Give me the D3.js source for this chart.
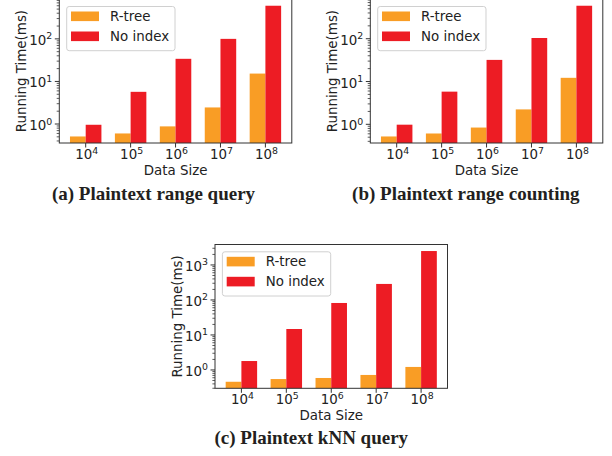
<!DOCTYPE html>
<html>
<head>
<meta charset="utf-8">
<script src="https://cdn.jsdelivr.net/npm/d3@7"></script>
<style>
  body { margin: 0; background: #fff; }
  svg { display: block; }
</style>
</head>
<body>
<div id="chart"></div>
<script>
// Data sizes (exponents of 10) on the x axis
const sizeExponents = [4, 5, 6, 7, 8];
const seriesNames = ["R-tree", "No index"];

// Running times (ms)
const rangeRtree   = [0.51, 0.60, 0.88, 2.45, 15.3];
const rangeNoIndex = [0.96, 5.7, 34, 100, 600];
const countRtree   = [0.52, 0.61, 0.84, 2.23, 12.2];
const countNoIndex = [0.98, 5.8, 32, 104, 590];
const knnRtree     = [0.46, 0.55, 0.59, 0.72, 1.22];
const knnNoIndex   = [1.8, 14.8, 82, 287, 2500];

const captions = [
  "(a) Plaintext range query",
  "(b) Plaintext range counting",
  "(c) Plaintext kNN query"
];

const colors = ["#F99D25", "#ED1C24"];
const textColor = "#222";
const font = "DejaVu Sans, sans-serif";

const W = 612, H = 456;
const axW = 232.5, axH = 143.8;

const svg = d3.select("#chart").append("svg")
  .attr("width", W)
  .attr("height", H)
  .style("font-family", font);

// position of each panel's axes box + its caption
const panels = [
  { rtree: rangeRtree, noIndex: rangeNoIndex, left: 59.3, top: -0.8, capX: 153.5, capY: 200 },
  { rtree: countRtree, noIndex: countNoIndex, left: 370.3, top: -0.8, capX: 465.8, capY: 200 },
  { rtree: knnRtree, noIndex: knnNoIndex, left: 215, top: 244.5, capX: 311.3, capY: 443.5 }
];

panels.forEach((p, idx) => {
  const g = svg.append("g").attr("transform", `translate(${p.left},${p.top})`);

  // x: category index, with 5% margin like matplotlib
  const barW = 0.35;
  const x = d3.scaleLinear()
    .domain([-0.5875, 4.5875])
    .range([0, axW]);

  // y: log scale, 5% margin in log space around bar tops
  const all = p.rtree.concat(p.noIndex);
  const lo = Math.log10(d3.min(all)), hi = Math.log10(d3.max(all));
  const pad = (hi - lo) * 0.05;
  const y = d3.scaleLog()
    .domain([Math.pow(10, lo - pad), Math.pow(10, hi + pad)])
    .range([axH, 0]);

  const clipId = "clip" + idx;
  g.append("clipPath").attr("id", clipId)
    .append("rect").attr("width", axW).attr("height", axH);

  // Bars
  const bars = g.append("g").attr("clip-path", `url(#${clipId})`);
  [p.rtree, p.noIndex].forEach((vals, s) => {
    bars.selectAll(null)
      .data(vals)
      .join("rect")
      .attr("x", (d, i) => x(i + (s === 0 ? -barW : 0)))
      .attr("y", d => y(d))
      .attr("width", x(barW) - x(0))
      .attr("height", d => axH + 2 - y(d))
      .attr("fill", colors[s]);
  });

  // Y axis: major ticks at decades, minor ticks in between
  const [d0, d1] = y.domain();
  const kMin = Math.floor(Math.log10(d0)), kMax = Math.ceil(Math.log10(d1));
  const majors = [], minors = [];
  for (let k = kMin; k <= kMax; k++) {
    const v = Math.pow(10, k);
    if (v >= d0 && v <= d1) majors.push(k);
    for (let m = 2; m <= 9; m++) {
      const mv = m * v;
      if (mv >= d0 && mv <= d1) minors.push(mv);
    }
  }
  const yAx = g.append("g");
  yAx.selectAll("line.minor").data(minors).join("line")
    .attr("x1", -2.6).attr("x2", 0)
    .attr("y1", d => y(d)).attr("y2", d => y(d))
    .attr("stroke", "#333").attr("stroke-width", 0.8);
  yAx.selectAll("line.major").data(majors).join("line")
    .attr("x1", -4.5).attr("x2", 0)
    .attr("y1", k => y(Math.pow(10, k))).attr("y2", k => y(Math.pow(10, k)))
    .attr("stroke", "#333").attr("stroke-width", 1);
  const yl = yAx.selectAll("text").data(majors).join("text")
    .attr("x", -7)
    .attr("y", k => y(Math.pow(10, k)) + 6)
    .attr("text-anchor", "end")
    .attr("fill", textColor)
    .style("font-size", "13.4px");
  yl.append("tspan").text("10");
  yl.append("tspan").attr("dy", -5.5).style("font-size", "9.4px").text(k => k);

  // X axis ticks + labels
  const xAx = g.append("g").attr("transform", `translate(0,${axH})`);
  xAx.selectAll("line").data(sizeExponents).join("line")
    .attr("x1", (d, i) => x(i)).attr("x2", (d, i) => x(i))
    .attr("y1", 0).attr("y2", 4.5)
    .attr("stroke", "#333").attr("stroke-width", 1);
  const xl = xAx.selectAll("text").data(sizeExponents).join("text")
    .attr("x", (d, i) => x(i) + 1)
    .attr("y", 16)
    .attr("text-anchor", "middle")
    .attr("fill", textColor)
    .style("font-size", "13.4px");
  xl.append("tspan").text("10");
  xl.append("tspan").attr("dy", -5.5).style("font-size", "9.4px").text(d => d);

  // Frame
  g.append("rect")
    .attr("width", axW).attr("height", axH)
    .attr("fill", "none")
    .attr("stroke", "#333").attr("stroke-width", 1);

  // Axis titles
  g.append("text")
    .attr("x", axW / 2).attr("y", axH + 32)
    .attr("text-anchor", "middle")
    .attr("fill", textColor)
    .style("font-size", "13.4px")
    .text("Data Size");
  g.append("text")
    .attr("transform", `translate(-33.5,${axH / 2}) rotate(-90)`)
    .attr("text-anchor", "middle")
    .attr("fill", textColor)
    .style("font-size", "13.4px")
    .text("Running Time(ms)");

  // Legend
  const lg = g.append("g").attr("transform", "translate(7.4,7.3)");
  lg.append("rect")
    .attr("width", 108.3).attr("height", 44.2)
    .attr("rx", 2.5)
    .attr("fill", "#fff").attr("fill-opacity", 0.8)
    .attr("stroke", "#d0d0d0").attr("stroke-width", 1);
  seriesNames.forEach((name, i) => {
    lg.append("rect")
      .attr("x", 4.3).attr("y", 5 + i * 20)
      .attr("width", 28).attr("height", 9.6)
      .attr("fill", colors[i]);
    lg.append("text")
      .attr("x", 43.3).attr("y", 14.5 + i * 20)
      .attr("fill", textColor)
      .style("font-size", "13.4px")
      .text(name);
  });

  // Caption
  svg.append("text")
    .attr("x", p.capX).attr("y", p.capY)
    .attr("text-anchor", "middle")
    .attr("fill", "#231f20")
    .style("font-family", "Liberation Serif, serif")
    .style("font-weight", "bold")
    .style("font-size", "19px")
    .text(captions[idx]);
});
</script>
</body>
</html>
